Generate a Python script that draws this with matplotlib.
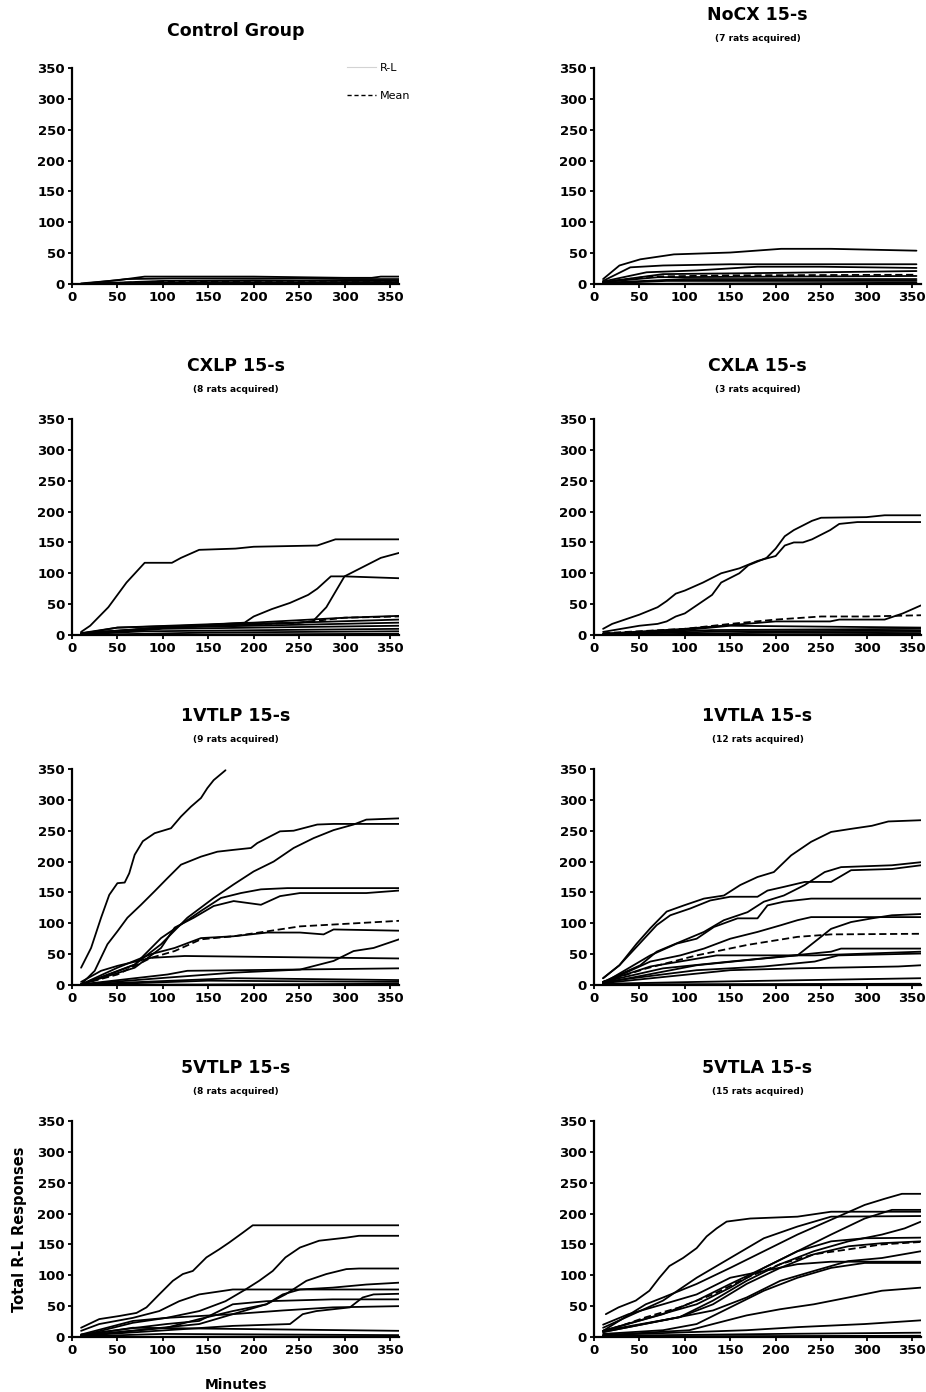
import matplotlib
matplotlib.use("Agg")
import matplotlib.pyplot as plt
from matplotlib.lines import Line2D

plt.rcParams['font.family'] = ['DejaVu Sans']

# (minutes, cumulative responses) breakpoints
ctrl_lines = [
    [(10, 1), (50, 6), (80, 12), (200, 12), (300, 10), (330, 10), (340, 12), (360, 12)],
    [(10, 0), (60, 8), (110, 9), (250, 9), (300, 8), (360, 8)],
    [(10, 0), (100, 5), (200, 6), (360, 5)],
    [(10, 0), (150, 3), (360, 3)],
    [(10, 0), (80, 2), (360, 2)],
    [(10, 0), (360, 1)],
]
ctrl_mean = [(10, 0), (100, 4), (200, 5), (360, 5)]

nocx_lines = [
    [(10, 8), (28, 30), (51, 40), (88, 48), (150, 51), (206, 57), (261, 57), (355, 54)],
    [(10, 5), (40, 27), (76, 30), (150, 32), (355, 32)],
    [(10, 4), (58, 19), (113, 22), (180, 28), (250, 28), (355, 26)],
    [(10, 3), (76, 16), (200, 18), (355, 21)],
    [(10, 3), (70, 11), (355, 13)],
    [(10, 2), (100, 8), (355, 8)],
    [(10, 1), (80, 5), (355, 5)],
    [(10, 0), (355, 2)],
]
nocx_mean = [(10, 3), (60, 12), (150, 14), (355, 15)]

cxlp_lines = [
    [(10, 5), (20, 15), (40, 45), (60, 85), (80, 117), (110, 117), (120, 125), (140, 138),
     (180, 140), (200, 143), (270, 145), (290, 155), (360, 155)],
    [(10, 3), (100, 12), (190, 20), (200, 30), (220, 42), (240, 52), (260, 65), (270, 75),
     (285, 95), (300, 95), (360, 92)],
    [(10, 3), (100, 12), (250, 20), (265, 22), (280, 45), (300, 95), (320, 110), (340, 125),
     (360, 133)],
    [(10, 2), (50, 12), (200, 20), (300, 28), (360, 31)],
    [(10, 3), (50, 12), (200, 18), (360, 25)],
    [(10, 2), (100, 12), (360, 20)],
    [(10, 1), (100, 10), (360, 15)],
    [(10, 1), (80, 6), (360, 10)],
    [(10, 0), (150, 4), (360, 6)],
    [(10, 0), (360, 2)],
]
cxlp_mean = [(10, 2), (100, 12), (250, 20), (300, 28), (360, 30)]

cxla_lines = [
    [(10, 10), (20, 18), (40, 28), (50, 33), (70, 45), (80, 55), (90, 67), (100, 72),
     (120, 85), (140, 100), (160, 108), (180, 120), (200, 128), (210, 145), (220, 150),
     (230, 150), (240, 155), (260, 170), (270, 180), (290, 183), (360, 183)],
    [(10, 5), (50, 15), (70, 18), (80, 22), (90, 30), (100, 35), (120, 55), (130, 65),
     (140, 85), (160, 100), (170, 113), (190, 125), (200, 140), (210, 160), (220, 170),
     (240, 185), (250, 190), (300, 191), (320, 194), (360, 194)],
    [(10, 2), (100, 10), (200, 22), (260, 22), (270, 25), (320, 25), (340, 35), (360, 48)],
    [(10, 2), (100, 8), (150, 15), (360, 12)],
    [(10, 1), (130, 8), (360, 10)],
    [(10, 1), (150, 6), (360, 7)],
    [(10, 0), (200, 4), (360, 5)],
    [(10, 0), (360, 2)],
]
cxla_mean = [(10, 3), (100, 10), (150, 18), (200, 25), (250, 30), (300, 30), (360, 32)]

vtlp1_lines = [
    [(10, 28), (21, 60), (32, 109), (41, 146), (50, 165), (58, 166), (63, 181), (69, 211),
     (78, 233), (91, 246), (109, 254), (120, 273), (131, 289), (142, 303), (149, 319),
     (156, 332), (169, 348)],
    [(10, 1), (25, 23), (39, 66), (50, 87), (61, 109), (76, 130), (91, 152), (105, 173),
     (120, 195), (142, 208), (160, 216), (178, 219), (197, 222), (204, 230), (229, 249),
     (244, 250), (270, 260), (288, 261), (360, 261)],
    [(10, 1), (32, 12), (69, 33), (98, 66), (127, 109), (156, 141), (178, 163), (200, 184),
     (222, 200), (244, 222), (266, 238), (288, 251), (310, 260), (324, 268), (360, 270)],
    [(10, 1), (69, 33), (98, 76), (120, 98), (142, 120), (164, 141), (186, 149), (208, 155),
     (237, 157), (360, 157)],
    [(10, 1), (69, 28), (98, 60), (113, 93), (134, 109), (156, 128), (178, 136), (208, 130),
     (229, 144), (251, 149), (324, 149), (360, 153)],
    [(10, 1), (50, 28), (87, 50), (113, 60), (142, 76), (178, 79), (215, 85), (251, 85),
     (277, 82), (288, 90), (360, 88)],
    [(10, 5), (32, 23), (50, 31), (87, 44), (124, 47), (360, 43)],
    [(10, 1), (105, 12), (178, 20), (251, 25), (288, 39), (310, 55), (332, 60), (360, 74)],
    [(10, 1), (105, 17), (127, 23), (360, 27)],
    [(10, 1), (178, 11), (360, 8)],
    [(10, 0), (150, 7), (360, 5)],
    [(10, 0), (360, 2)],
]
vtlp1_mean = [(10, 1), (50, 17), (87, 44), (113, 55), (142, 74), (178, 79), (215, 87),
              (251, 95), (288, 98), (360, 104)]

vtla1_lines = [
    [(10, 11), (28, 32), (47, 67), (62, 92), (80, 119), (99, 129), (121, 140), (143, 145),
     (161, 162), (180, 175), (198, 183), (217, 210), (239, 232), (261, 248), (283, 253),
     (306, 258), (324, 265), (360, 267)],
    [(10, 11), (28, 32), (47, 62), (69, 97), (84, 113), (106, 124), (128, 137), (150, 143),
     (180, 143), (191, 153), (209, 159), (232, 167), (261, 167), (283, 186), (328, 188),
     (360, 194)],
    [(10, 5), (51, 32), (69, 54), (95, 70), (121, 86), (143, 105), (169, 118), (187, 135),
     (209, 145), (232, 162), (254, 183), (272, 191), (328, 194), (360, 199)],
    [(10, 3), (62, 48), (91, 67), (113, 75), (132, 94), (158, 108), (180, 108), (191, 129),
     (209, 135), (239, 140), (360, 140)],
    [(10, 3), (62, 38), (95, 48), (121, 59), (150, 75), (180, 86), (206, 97), (224, 105),
     (239, 110), (360, 110)],
    [(10, 3), (113, 32), (187, 43), (224, 48), (243, 70), (261, 91), (283, 102), (306, 108),
     (328, 113), (360, 115)],
    [(10, 5), (62, 30), (135, 48), (187, 48), (243, 48), (360, 54)],
    [(10, 5), (76, 27), (150, 38), (206, 46), (261, 54), (272, 59), (360, 59)],
    [(10, 5), (113, 24), (187, 30), (243, 38), (269, 48), (360, 51)],
    [(10, 3), (150, 24), (224, 27), (335, 30), (360, 32)],
    [(10, 2), (113, 5), (360, 11)],
    [(10, 1), (360, 2)],
]
vtla1_mean = [(10, 5), (58, 27), (113, 48), (169, 65), (224, 78), (261, 82), (360, 83)]

vtlp5_lines = [
    [(10, 15), (30, 29), (52, 34), (71, 39), (82, 48), (96, 69), (111, 91), (122, 102),
     (133, 107), (148, 129), (162, 142), (173, 153), (188, 169), (199, 181), (360, 181)],
    [(10, 2), (67, 23), (104, 31), (140, 42), (169, 58), (191, 77), (206, 91), (221, 107),
     (235, 129), (251, 145), (272, 156), (302, 161), (316, 164), (360, 164)],
    [(10, 2), (104, 15), (140, 29), (177, 42), (214, 53), (235, 69), (258, 91), (280, 102),
     (302, 110), (316, 111), (360, 111)],
    [(10, 10), (30, 21), (67, 31), (96, 42), (118, 58), (140, 69), (177, 77), (360, 77)],
    [(10, 2), (140, 21), (177, 37), (214, 53), (232, 69), (251, 77), (287, 80), (324, 85),
     (360, 88)],
    [(10, 2), (177, 18), (240, 21), (254, 37), (269, 42), (306, 48), (320, 64), (332, 69),
     (360, 70)],
    [(10, 4), (104, 21), (140, 26), (177, 53), (214, 58), (287, 61), (360, 61)],
    [(10, 4), (67, 26), (104, 31), (177, 37), (232, 43), (287, 48), (360, 50)],
    [(10, 2), (67, 15), (360, 10)],
    [(10, 1), (100, 5), (360, 3)],
    [(10, 0), (360, 1)],
]

vtla5_lines = [
    [(13, 37), (27, 48), (46, 59), (61, 75), (72, 96), (83, 115), (98, 128), (113, 144),
     (124, 163), (135, 176), (146, 187), (172, 192), (224, 195), (261, 203), (360, 203)],
    [(10, 10), (57, 53), (76, 64), (113, 86), (150, 112), (187, 139), (224, 166), (261, 190),
     (298, 214), (320, 224), (339, 232), (360, 232)],
    [(10, 15), (76, 59), (113, 96), (150, 128), (187, 160), (224, 179), (261, 195), (360, 196)],
    [(10, 10), (76, 37), (113, 59), (150, 86), (187, 112), (224, 139), (261, 166), (298, 192),
     (328, 206), (360, 206)],
    [(10, 8), (94, 32), (131, 59), (168, 91), (205, 118), (242, 139), (280, 155), (317, 166),
     (342, 176), (360, 187)],
    [(10, 10), (113, 53), (150, 80), (187, 112), (224, 139), (261, 155), (298, 160), (360, 161)],
    [(10, 10), (94, 32), (131, 53), (168, 86), (205, 112), (242, 134), (280, 147), (317, 152),
     (360, 155)],
    [(10, 8), (131, 43), (168, 64), (205, 91), (242, 107), (280, 123), (317, 128), (360, 139)],
    [(10, 5), (76, 11), (113, 21), (150, 48), (187, 75), (224, 96), (261, 112), (298, 120),
     (360, 120)],
    [(10, 20), (38, 37), (76, 53), (113, 69), (150, 96), (187, 107), (224, 118), (261, 122),
     (360, 122)],
    [(10, 3), (105, 11), (131, 21), (168, 35), (205, 45), (242, 53), (280, 64), (317, 75),
     (360, 80)],
    [(10, 3), (168, 11), (224, 16), (298, 21), (360, 27)],
    [(10, 2), (205, 5), (360, 7)],
    [(10, 1), (360, 2)],
]
vtla5_mean = [(10, 8), (57, 32), (94, 48), (131, 69), (168, 96), (205, 118), (242, 134),
              (280, 142), (317, 150), (360, 154)]

titles = ["Control Group", "NoCX 15-s", "CXLP 15-s", "CXLA 15-s",
          "1VTLP 15-s", "1VTLA 15-s", "5VTLP 15-s", "5VTLA 15-s"]
subtitles = [None, "(7 rats acquired)", "(8 rats acquired)", "(3 rats acquired)",
             "(9 rats acquired)", "(12 rats acquired)", "(8 rats acquired)",
             "(15 rats acquired)"]
panel_lines = [ctrl_lines, nocx_lines, cxlp_lines, cxla_lines,
               vtlp1_lines, vtla1_lines, vtlp5_lines, vtla5_lines]
panel_means = [ctrl_mean, nocx_mean, cxlp_mean, cxla_mean,
               vtlp1_mean, vtla1_mean, None, vtla5_mean]
xticks = [0, 50, 100, 150, 200, 250, 300, 350]
yticks = [0, 50, 100, 150, 200, 250, 300, 350]

W, H = 926, 1392
fig = plt.figure(figsize=(W / 100, H / 100), dpi=100)

# axes boxes in pixels: left, bottom (y=0 line), width, height
lefts = [72, 594]
bottoms = [284, 635, 985, 1337]
ax_w, ax_h = 327, 216

axes = []
for i in range(8):
    r, c = divmod(i, 2)
    left = lefts[c] / W
    bottom = 1 - bottoms[r] / H
    ax = fig.add_axes([left, bottom, ax_w / W, ax_h / H])
    axes.append(ax)

    for pts in panel_lines[i]:
        t = [p[0] for p in pts]
        y = [p[1] for p in pts]
        ax.plot(t, y, color='black', lw=1.3, solid_capstyle='round')
    if panel_means[i] is not None:
        t = [p[0] for p in panel_means[i]]
        y = [p[1] for p in panel_means[i]]
        ax.plot(t, y, color='black', lw=1.3, ls=(0, (4, 2)))

    ax.set_xlim(0, 360)
    ax.set_ylim(0, 350)
    ax.set_xticks(xticks)
    ax.set_yticks(yticks)
    ax.spines['top'].set_visible(False)
    ax.spines['right'].set_visible(False)
    ax.spines['left'].set_linewidth(1.6)
    ax.spines['bottom'].set_linewidth(1.6)
    ax.tick_params(direction='out', length=3, width=1.3, labelsize=9.5, pad=2)
    for lab in ax.get_xticklabels() + ax.get_yticklabels():
        lab.set_fontweight('bold')

    if subtitles[i] is None:
        ax.text(0.5, 1.17, titles[i], transform=ax.transAxes, ha='center', va='center',
                fontsize=12.5, fontweight='bold')
    else:
        ax.text(0.5, 1.245, titles[i], transform=ax.transAxes, ha='center', va='center',
                fontsize=12.5, fontweight='bold')
        ax.text(0.5, 1.135, subtitles[i], transform=ax.transAxes, ha='center', va='center',
                fontsize=6.5, fontweight='bold')

# legend on the control panel
handles = [Line2D([], [], color='lightgray', lw=0.8),
           Line2D([], [], color='black', lw=1.0, ls=(0, (3, 2)))]
axes[0].legend(handles, ['R-L', 'Mean'], loc='upper left', bbox_to_anchor=(0.81, 1.07),
               frameon=False, fontsize=8, handlelength=2.6, labelspacing=1.6,
               handletextpad=0.4)

axes[6].text(-0.16, 0.5, "Total R-L Responses", transform=axes[6].transAxes, rotation=90,
             ha='center', va='center', fontsize=10.5, fontweight='bold')
axes[6].text(0.5, -0.22, "Minutes", transform=axes[6].transAxes, ha='center', va='center',
             fontsize=10, fontweight='bold')

fig.savefig("out.png", dpi=100)
